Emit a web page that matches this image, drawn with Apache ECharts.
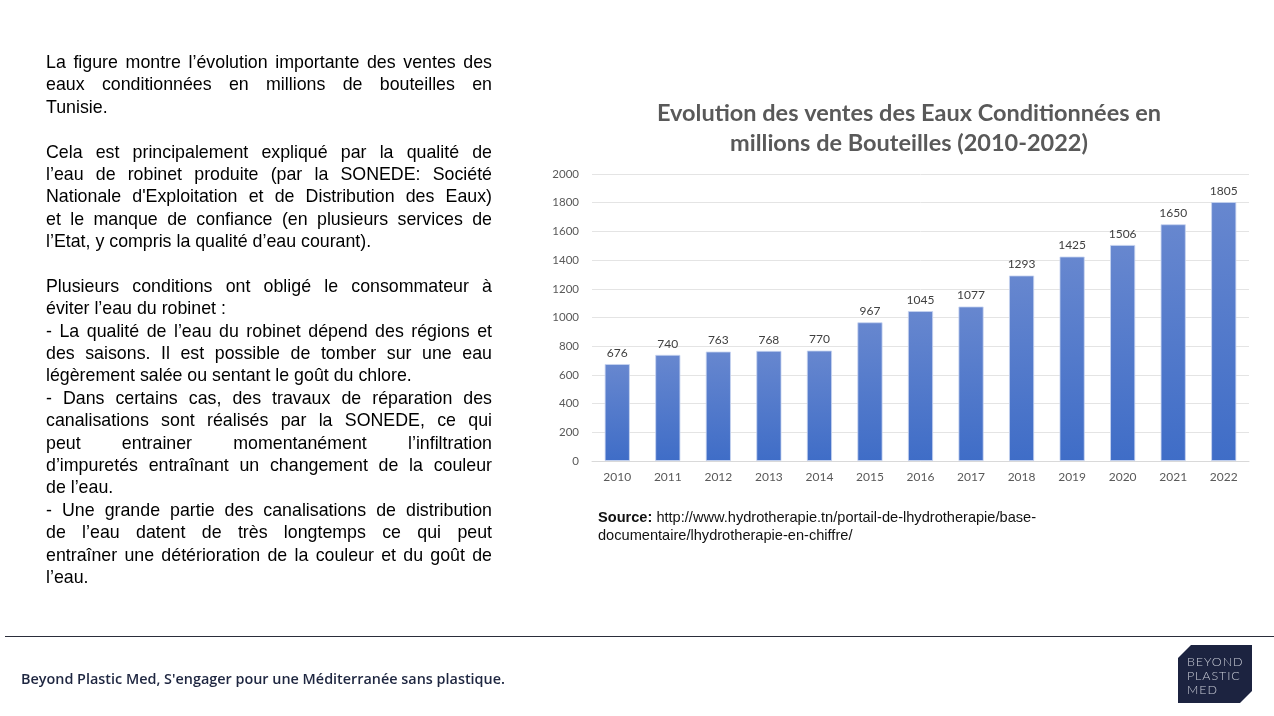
<!DOCTYPE html>
<html><head><meta charset="utf-8">
<script src="https://cdn.jsdelivr.net/npm/echarts@6/dist/echarts.min.js"></script>
<style>
html,body{margin:0;padding:0;background:#fff;width:1274px;height:716px;overflow:hidden;}
#chart{position:absolute;left:0;top:0;width:1274px;height:716px;}
#txt{position:absolute;left:46px;top:51px;width:446px;font-family:"Liberation Sans",Arial,sans-serif;font-size:17.8px;line-height:22.4px;color:#000;}
#txt div{text-align:justify;text-align-last:justify;white-space:nowrap;height:22.4px;}
#txt div.e{text-align-last:left;}
#src{position:absolute;left:598px;top:508px;font-family:"Liberation Sans",Arial,sans-serif;font-size:14.6px;line-height:18px;color:#111;}
#rule{position:absolute;left:5px;top:636px;width:1269px;height:1px;background:#2a2d3a;}
#foot{position:absolute;left:21px;top:669px;font-family:"Open Sans",Lato,sans-serif;font-size:14.4px;font-weight:600;color:#1e2640;}
#logo{position:absolute;left:1178px;top:645px;width:74px;height:58px;}
</style></head><body>
<div id="chart"></div>
<div id="txt">
<div>La figure montre l’évolution importante des ventes des</div>
<div>eaux conditionnées en millions de bouteilles en</div>
<div class="e">Tunisie.</div>
<div class="e">&nbsp;</div>
<div>Cela est principalement expliqué par la qualité de</div>
<div>l’eau de robinet produite (par la SONEDE: Société</div>
<div>Nationale d'Exploitation et de Distribution des Eaux)</div>
<div>et le manque de confiance (en plusieurs services de</div>
<div class="e">l’Etat, y compris la qualité d’eau courant).</div>
<div class="e">&nbsp;</div>
<div>Plusieurs conditions ont obligé le consommateur à</div>
<div class="e">éviter l’eau du robinet :</div>
<div>- La qualité de l’eau du robinet dépend des régions et</div>
<div>des saisons. Il est possible de tomber sur une eau</div>
<div class="e">légèrement salée ou sentant le goût du chlore.</div>
<div>- Dans certains cas, des travaux de réparation des</div>
<div>canalisations sont réalisés par la SONEDE, ce qui</div>
<div>peut entrainer momentanément l’infiltration</div>
<div>d’impuretés entraînant un changement de la couleur</div>
<div class="e">de l’eau.</div>
<div>- Une grande partie des canalisations de distribution</div>
<div>de l’eau datent de très longtemps ce qui peut</div>
<div>entraîner une détérioration de la couleur et du goût de</div>
<div class="e">l’eau.</div>
</div>
<div id="src"><b>Source:</b> http://www.hydrotherapie.tn/portail-de-lhydrotherapie/base-<br>documentaire/lhydrotherapie-en-chiffre/</div>
<div id="rule"></div>
<div id="foot">Beyond Plastic Med, S'engager pour une Méditerranée sans plastique.</div>
<svg id="logo" viewBox="0 0 74 58">
<polygon points="13,0 74,0 74,46 62,58 0,58 0,13" fill="#1c2340"/>
<text x="9" y="21" font-family="Lato,'Open Sans',sans-serif" font-size="12.5" font-weight="300" fill="#c9ccd6" letter-spacing="0.9">BEYOND</text>
<text x="9" y="35" font-family="Lato,'Open Sans',sans-serif" font-size="12.5" font-weight="300" fill="#c9ccd6" letter-spacing="0.9">PLASTIC</text>
<text x="9" y="49" font-family="Lato,'Open Sans',sans-serif" font-size="12.5" font-weight="300" fill="#c9ccd6" letter-spacing="0.9">MED</text>
</svg>
<script>
const years = ['2010','2011','2012','2013','2014','2015','2016','2017','2018','2019','2020','2021','2022'];
const sales = [676, 740, 763, 768, 770, 967, 1045, 1077, 1293, 1425, 1506, 1650, 1805];
const chartTitle = 'Evolution des ventes des Eaux Conditionnées en\nmillions de Bouteilles (2010-2022)';

const chart = echarts.init(document.getElementById('chart'), null, {renderer:'canvas'});
chart.setOption({
  animation:false,
  title:{
    text: chartTitle,
    left: 904, top: 93, textAlign:'center',
    textStyle:{fontFamily:'Lato, "Open Sans", sans-serif', fontSize:23.5, fontWeight:'bold', color:'#595959', lineHeight:30}
  },
  grid:{left:592, right:25, top:174, bottom:255},
  xAxis:{
    type:'category', data: years,
    axisLine:{lineStyle:{color:'#d9d9d9'}},
    axisTick:{show:false},
    axisLabel:{color:'#595959', fontSize:12, fontFamily:'Lato, "Open Sans", sans-serif', margin:10}
  },
  yAxis:{
    type:'value', min:0, max:2000, interval:200,
    axisLine:{show:false}, axisTick:{show:false},
    splitLine:{lineStyle:{color:'#e4e4e4', width:1}},
    axisLabel:{color:'#595959', fontSize:11.5, fontFamily:'Lato, "Open Sans", sans-serif', margin:13, formatter: v => String(v)}
  },
  series:[{
    type:'bar', data: sales, barWidth:'50%',
    itemStyle:{
      color: new echarts.graphic.LinearGradient(0,0,0,1,[{offset:0,color:'#6787cf'},{offset:1,color:'#3f6dc7'}]),
      borderColor:'rgba(200,212,240,0.8)', borderWidth:1
    },
    label:{show:true, position:'top', color:'#404040', fontSize:12, fontFamily:'Lato, "Open Sans", sans-serif', distance:5}
  }]
});
</script>
</body></html>
